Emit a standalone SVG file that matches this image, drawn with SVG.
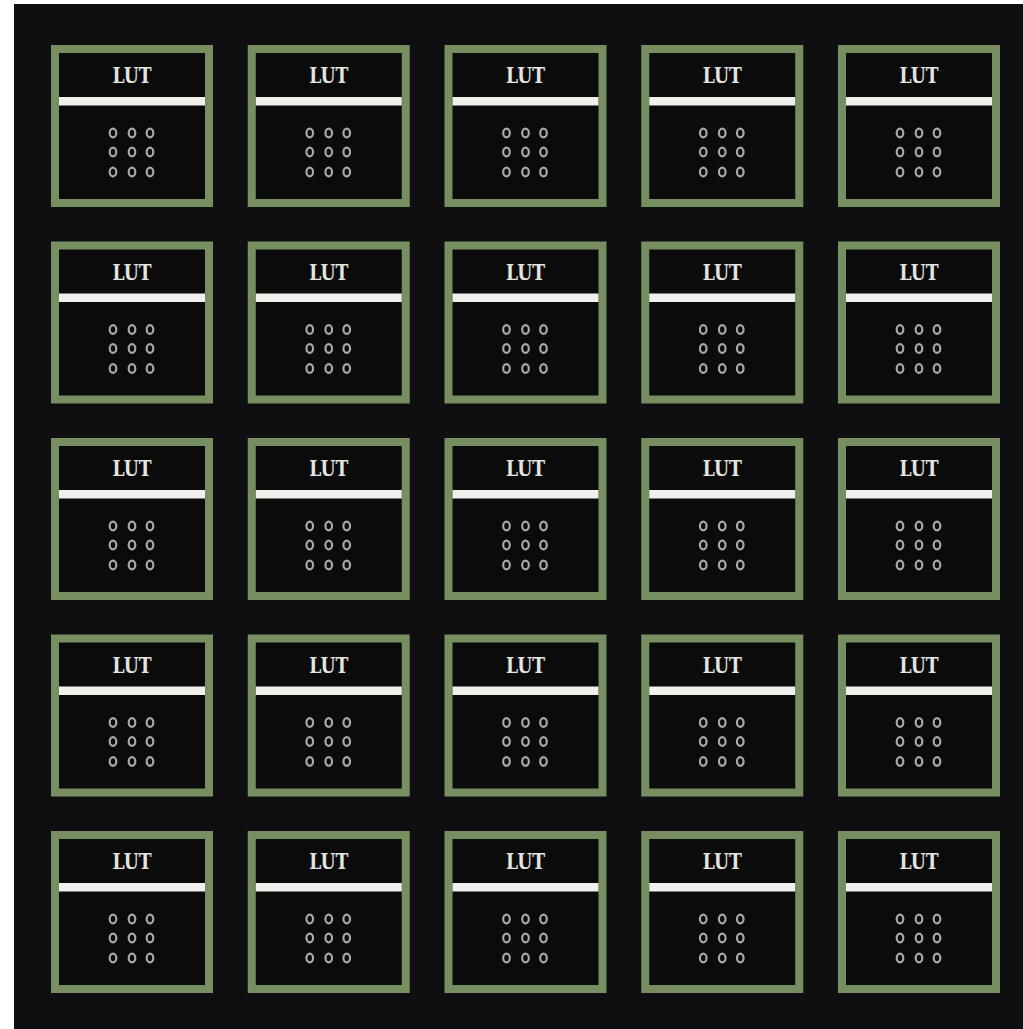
<svg xmlns="http://www.w3.org/2000/svg" width="1023" height="1029" viewBox="0 0 1023 1029">
  <defs>
    <style>
      .frame { fill: #0b0b0c; stroke: #778f60; stroke-width: 8; }
      .bar { fill: #f0f0ec; }
      .lbl { font-family: "DejaVu Serif", "Liberation Serif", serif; font-weight: bold; font-size: 22px; fill: #e4e4e0; text-anchor: middle; }
      .dot { fill: none; stroke: #a9a9a6; stroke-width: 2.2; }
    </style>
    <g id="lut">
      <rect class="frame" x="4" y="4" width="154" height="154"/>
      <rect class="bar" x="8" y="52" width="146" height="8.5"/>
      <g>
        <ellipse class="dot" cx="62" cy="88" rx="3.3" ry="4.3"/>
        <ellipse class="dot" cx="81" cy="88" rx="3.3" ry="4.3"/>
        <ellipse class="dot" cx="99" cy="88" rx="3.3" ry="4.3"/>
        <ellipse class="dot" cx="62" cy="107" rx="3.3" ry="4.3"/>
        <ellipse class="dot" cx="81" cy="107" rx="3.3" ry="4.3"/>
        <ellipse class="dot" cx="99" cy="107" rx="3.3" ry="4.3"/>
        <ellipse class="dot" cx="62" cy="127" rx="3.3" ry="4.3"/>
        <ellipse class="dot" cx="81" cy="127" rx="3.3" ry="4.3"/>
        <ellipse class="dot" cx="99" cy="127" rx="3.3" ry="4.3"/>
      </g>
    </g>
  </defs>
  <rect x="0" y="0" width="1023" height="1029" fill="#ffffff"/>
  <rect x="14" y="4" width="1009" height="1025" fill="#0f0f11"/>
  <g id="nodes">
    <g id="lut-r1c1" transform="translate(51,45)"><use href="#lut"/><text class="lbl" x="81" y="38" textLength="39" lengthAdjust="spacingAndGlyphs">LUT</text></g>
    <g id="lut-r1c2" transform="translate(247.75,45)"><use href="#lut"/><text class="lbl" x="81" y="38" textLength="39" lengthAdjust="spacingAndGlyphs">LUT</text></g>
    <g id="lut-r1c3" transform="translate(444.5,45)"><use href="#lut"/><text class="lbl" x="81" y="38" textLength="39" lengthAdjust="spacingAndGlyphs">LUT</text></g>
    <g id="lut-r1c4" transform="translate(641.25,45)"><use href="#lut"/><text class="lbl" x="81" y="38" textLength="39" lengthAdjust="spacingAndGlyphs">LUT</text></g>
    <g id="lut-r1c5" transform="translate(838,45)"><use href="#lut"/><text class="lbl" x="81" y="38" textLength="39" lengthAdjust="spacingAndGlyphs">LUT</text></g>

    <g id="lut-r2c1" transform="translate(51,241.5)"><use href="#lut"/><text class="lbl" x="81" y="38" textLength="39" lengthAdjust="spacingAndGlyphs">LUT</text></g>
    <g id="lut-r2c2" transform="translate(247.75,241.5)"><use href="#lut"/><text class="lbl" x="81" y="38" textLength="39" lengthAdjust="spacingAndGlyphs">LUT</text></g>
    <g id="lut-r2c3" transform="translate(444.5,241.5)"><use href="#lut"/><text class="lbl" x="81" y="38" textLength="39" lengthAdjust="spacingAndGlyphs">LUT</text></g>
    <g id="lut-r2c4" transform="translate(641.25,241.5)"><use href="#lut"/><text class="lbl" x="81" y="38" textLength="39" lengthAdjust="spacingAndGlyphs">LUT</text></g>
    <g id="lut-r2c5" transform="translate(838,241.5)"><use href="#lut"/><text class="lbl" x="81" y="38" textLength="39" lengthAdjust="spacingAndGlyphs">LUT</text></g>

    <g id="lut-r3c1" transform="translate(51,438)"><use href="#lut"/><text class="lbl" x="81" y="38" textLength="39" lengthAdjust="spacingAndGlyphs">LUT</text></g>
    <g id="lut-r3c2" transform="translate(247.75,438)"><use href="#lut"/><text class="lbl" x="81" y="38" textLength="39" lengthAdjust="spacingAndGlyphs">LUT</text></g>
    <g id="lut-r3c3" transform="translate(444.5,438)"><use href="#lut"/><text class="lbl" x="81" y="38" textLength="39" lengthAdjust="spacingAndGlyphs">LUT</text></g>
    <g id="lut-r3c4" transform="translate(641.25,438)"><use href="#lut"/><text class="lbl" x="81" y="38" textLength="39" lengthAdjust="spacingAndGlyphs">LUT</text></g>
    <g id="lut-r3c5" transform="translate(838,438)"><use href="#lut"/><text class="lbl" x="81" y="38" textLength="39" lengthAdjust="spacingAndGlyphs">LUT</text></g>

    <g id="lut-r4c1" transform="translate(51,634.5)"><use href="#lut"/><text class="lbl" x="81" y="38" textLength="39" lengthAdjust="spacingAndGlyphs">LUT</text></g>
    <g id="lut-r4c2" transform="translate(247.75,634.5)"><use href="#lut"/><text class="lbl" x="81" y="38" textLength="39" lengthAdjust="spacingAndGlyphs">LUT</text></g>
    <g id="lut-r4c3" transform="translate(444.5,634.5)"><use href="#lut"/><text class="lbl" x="81" y="38" textLength="39" lengthAdjust="spacingAndGlyphs">LUT</text></g>
    <g id="lut-r4c4" transform="translate(641.25,634.5)"><use href="#lut"/><text class="lbl" x="81" y="38" textLength="39" lengthAdjust="spacingAndGlyphs">LUT</text></g>
    <g id="lut-r4c5" transform="translate(838,634.5)"><use href="#lut"/><text class="lbl" x="81" y="38" textLength="39" lengthAdjust="spacingAndGlyphs">LUT</text></g>

    <g id="lut-r5c1" transform="translate(51,831)"><use href="#lut"/><text class="lbl" x="81" y="38" textLength="39" lengthAdjust="spacingAndGlyphs">LUT</text></g>
    <g id="lut-r5c2" transform="translate(247.75,831)"><use href="#lut"/><text class="lbl" x="81" y="38" textLength="39" lengthAdjust="spacingAndGlyphs">LUT</text></g>
    <g id="lut-r5c3" transform="translate(444.5,831)"><use href="#lut"/><text class="lbl" x="81" y="38" textLength="39" lengthAdjust="spacingAndGlyphs">LUT</text></g>
    <g id="lut-r5c4" transform="translate(641.25,831)"><use href="#lut"/><text class="lbl" x="81" y="38" textLength="39" lengthAdjust="spacingAndGlyphs">LUT</text></g>
    <g id="lut-r5c5" transform="translate(838,831)"><use href="#lut"/><text class="lbl" x="81" y="38" textLength="39" lengthAdjust="spacingAndGlyphs">LUT</text></g>
  </g>
  <g id="connectors"></g>
</svg>
